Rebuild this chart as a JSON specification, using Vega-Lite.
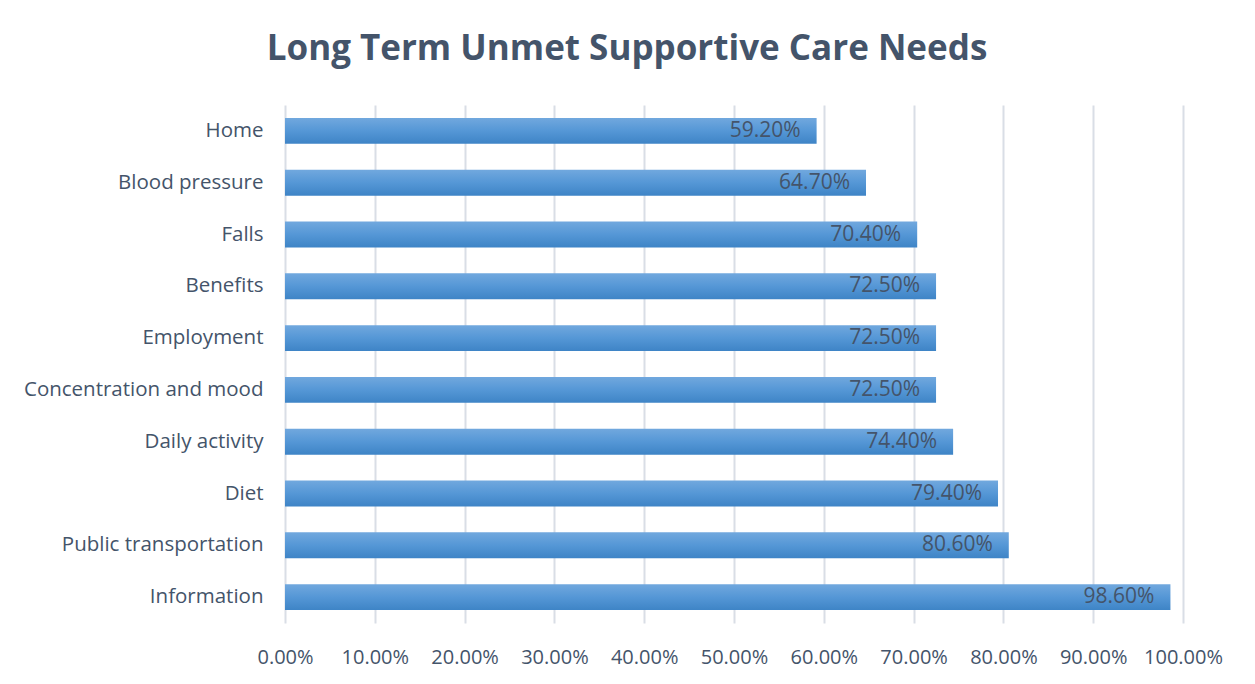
{
  "$schema": "https://vega.github.io/schema/vega-lite/v6.json",
  "autosize": {"type": "none"},
  "width": 898,
  "height": 518,
  "padding": {"left": 285, "top": 105, "right": 72, "bottom": 61},
  "background": "white",
  "title": {
    "text": "Long Term Unmet Supportive Care Needs",
    "font": "Open Sans",
    "fontSize": 35,
    "fontWeight": "bold",
    "color": "#44546A",
    "anchor": "middle",
    "dx": -107,
    "offset": 38
  },
  "data": {
    "values": [
      {"need": "Home", "value": 0.592},
      {"need": "Blood pressure", "value": 0.647},
      {"need": "Falls", "value": 0.704},
      {"need": "Benefits", "value": 0.725},
      {"need": "Employment", "value": 0.725},
      {"need": "Concentration and mood", "value": 0.725},
      {"need": "Daily activity", "value": 0.744},
      {"need": "Diet", "value": 0.794},
      {"need": "Public transportation", "value": 0.806},
      {"need": "Information", "value": 0.986}
    ]
  },
  "encoding": {
    "y": {
      "field": "need",
      "type": "nominal",
      "sort": null,
      "scale": {"paddingInner": 0.5, "paddingOuter": 0.25},
      "axis": {
        "title": null,
        "domain": false,
        "ticks": false,
        "labelPadding": 22,
        "labelLimit": 0,
        "labelFont": "Open Sans",
        "labelFontSize": 20.5,
        "labelColor": "#44546A",
        "grid": false
      }
    },
    "x": {
      "field": "value",
      "type": "quantitative",
      "scale": {"domain": [0, 1], "nice": false},
      "axis": {
        "title": null,
        "format": ".2%",
        "values": [0, 0.1, 0.2, 0.3, 0.4, 0.5, 0.6, 0.7, 0.8, 0.9, 1],
        "labelOverlap": false,
        "labelFlush": false,
        "labelAlign": "center",
        "domain": false,
        "ticks": false,
        "labelPadding": 24,
        "labelFont": "Open Sans",
        "labelFontSize": 20,
        "labelColor": "#44546A",
        "grid": true,
        "gridColor": "#D9DEE6",
        "gridWidth": 2
      }
    }
  },
  "layer": [
    {
      "mark": {
        "type": "bar",
        "color": {
          "gradient": "linear",
          "x1": 0, "y1": 0, "x2": 0, "y2": 1,
          "stops": [
            {"offset": 0, "color": "#71A8DE"},
            {"offset": 0.5, "color": "#5597D6"},
            {"offset": 1, "color": "#3E84C6"}
          ]
        }
      }
    },
    {
      "mark": {
        "type": "text",
        "align": "right",
        "baseline": "middle",
        "dx": -16,
        "font": "Open Sans",
        "fontSize": 21,
        "color": "#44546A"
      },
      "encoding": {
        "text": {"field": "value", "type": "quantitative", "format": ".2%"}
      }
    }
  ],
  "config": {"view": {"stroke": null}}
}
